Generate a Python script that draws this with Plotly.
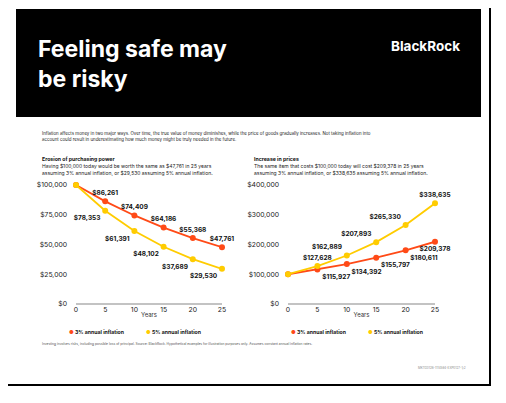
import plotly.graph_objects as go

W, H = 506, 403
years = [0, 5, 10, 15, 20, 25]
erosion_3 = [100000, 86261, 74409, 64186, 55368, 47761]
erosion_5 = [100000, 78353, 61391, 48102, 37689, 29530]
prices_3 = [100000, 115927, 134392, 155797, 180611, 209378]
prices_5 = [100000, 127628, 162889, 207893, 265330, 338635]
left_ticks = [0, 25000, 50000, 75000, 100000]
right_ticks = [0, 100000, 200000, 300000, 400000]

RED = "#ff4a17"
YEL = "#ffcc00"
FONT = "Inter"
OFF = 8  # page body offset

def px(x):
    return (x - OFF) / W

def py(y):
    return 1 - (y - OFF) / H

def money(v):
    return [("" if i == 0 else f"${x:,}") for i, x in enumerate(v)]

fig = go.Figure()

def series(x, y, color, pos, xa, ya, name):
    fig.add_trace(go.Scatter(
        x=x, y=y, mode="lines+markers+text", name=name,
        line=dict(color=color, width=1.8), marker=dict(color=color, size=6),
        text=money(y), textposition=pos,
        textfont=dict(family=FONT, size=6.5, color="#111", weight="bold"),
        xaxis=xa, yaxis=ya, showlegend=False, cliponaxis=False))

series(years, erosion_3, RED, "top center", "x", "y", "3%")
series(years, erosion_5, YEL, "bottom left", "x", "y", "5%")
series(years, prices_3, RED,
       ["bottom right"] * 5 + ["bottom center"], "x2", "y2", "3%")
series(years, prices_5, YEL,
       ["top left", "top center", "top left", "top left", "top left", "top center"],
       "x2", "y2", "5%")

ax = dict(range=[0, 25], tickvals=years, showgrid=False, zeroline=False, automargin=False,
          showline=False, ticks="", tickfont=dict(family=FONT, size=6.8, color="#222"),
          title=dict(text="Years", font=dict(family=FONT, size=6, color="#333"), standoff=0))
yax = dict(showgrid=False, zeroline=False, automargin=False, tickformat="$,.0f",
           ticklabelstandoff=8, tickfont=dict(family=FONT, size=6.8, color="#222"))
ydom = [py(304), py(185)]
fig.update_layout(
    width=W, height=H, margin=dict(l=0, r=0, t=0, b=0, autoexpand=False),
    paper_bgcolor="white", plot_bgcolor="rgba(0,0,0,0)",
    xaxis=dict(ax, domain=[px(76), px(222)]),
    xaxis2=dict(ax, domain=[px(288), px(435)]),
    yaxis=dict(yax, range=[0, 100000], domain=ydom, tickvals=left_ticks),
    yaxis2=dict(yax, range=[0, 400000], domain=ydom, tickvals=right_ticks, anchor="x2"),
)

shapes = [
    dict(type="rect", xref="paper", yref="paper", x0=px(5), x1=px(490), y0=py(385), y1=py(2),
         line=dict(color="black", width=2), fillcolor="white", layer="below"),
    dict(type="rect", xref="paper", yref="paper", x0=px(16), x1=px(481), y0=py(117), y1=py(9),
         line=dict(width=0), fillcolor="black", layer="below"),
]
for x0, x1 in [(px(76), px(222)), (px(288), px(435))]:
    shapes.append(dict(type="line", xref="paper", yref="paper", x0=x0, x1=x1,
                       y0=py(304), y1=py(304), line=dict(color="#888", width=1.2), layer="below"))
fig.update_layout(shapes=shapes)

def note(x, y, text, size, color="#222", bold=False, xanchor="left", fam=FONT):
    fig.add_annotation(x=px(x), y=py(y), xref="paper", yref="paper", text=text,
                       showarrow=False, xanchor=xanchor, yanchor="middle", align="left",
                       font=dict(family=fam, size=size, color=color, weight="bold" if bold else "normal"))

note(36, 64, "Feeling safe may<br>be risky", 23, "white", True)
note(462, 46, "BlackRock", 13.5, "white", True, "right")
note(40, 136, "Inflation affects money in two major ways. Over time, the true value of money diminishes, while the price of goods gradually increases. Not taking inflation into<br>account could result in underestimating how much money might be truly needed in the future.", 4.4)
note(40, 159, "Erosion of purchasing power", 5.2, "#111", True)
note(40, 169, "Having $100,000 today would be worth the same as $47,761 in 25 years<br>assuming 3% annual inflation, or $29,530 assuming 5% annual inflation.", 5.0)
note(252, 159, "Increase in prices", 5.2, "#111", True)
note(252, 169, "The same item that costs $100,000 today will cost $209,378 in 25 years<br>assuming 3% annual inflation, or $338,635 assuming 5% annual inflation.", 5.0)
for base in (67, 289):
    note(base, 332, f"<span style='color:{RED}'>●</span> 3% annual inflation", 5.2, "#111", True)
    note(base + 77, 332, f"<span style='color:{YEL}'>●</span> 5% annual inflation", 5.2, "#111", True)
note(40, 344, "Investing involves risks, including possible loss of principal. Source: BlackRock. Hypothetical examples for illustration purposes only. Assumes constant annual inflation rates.", 3.3, "#555")
note(468, 368, "MKTG0126-1114584-EXP0127-1/2", 3.0, "#888", xanchor="right")

fig.write_html("out.html")
